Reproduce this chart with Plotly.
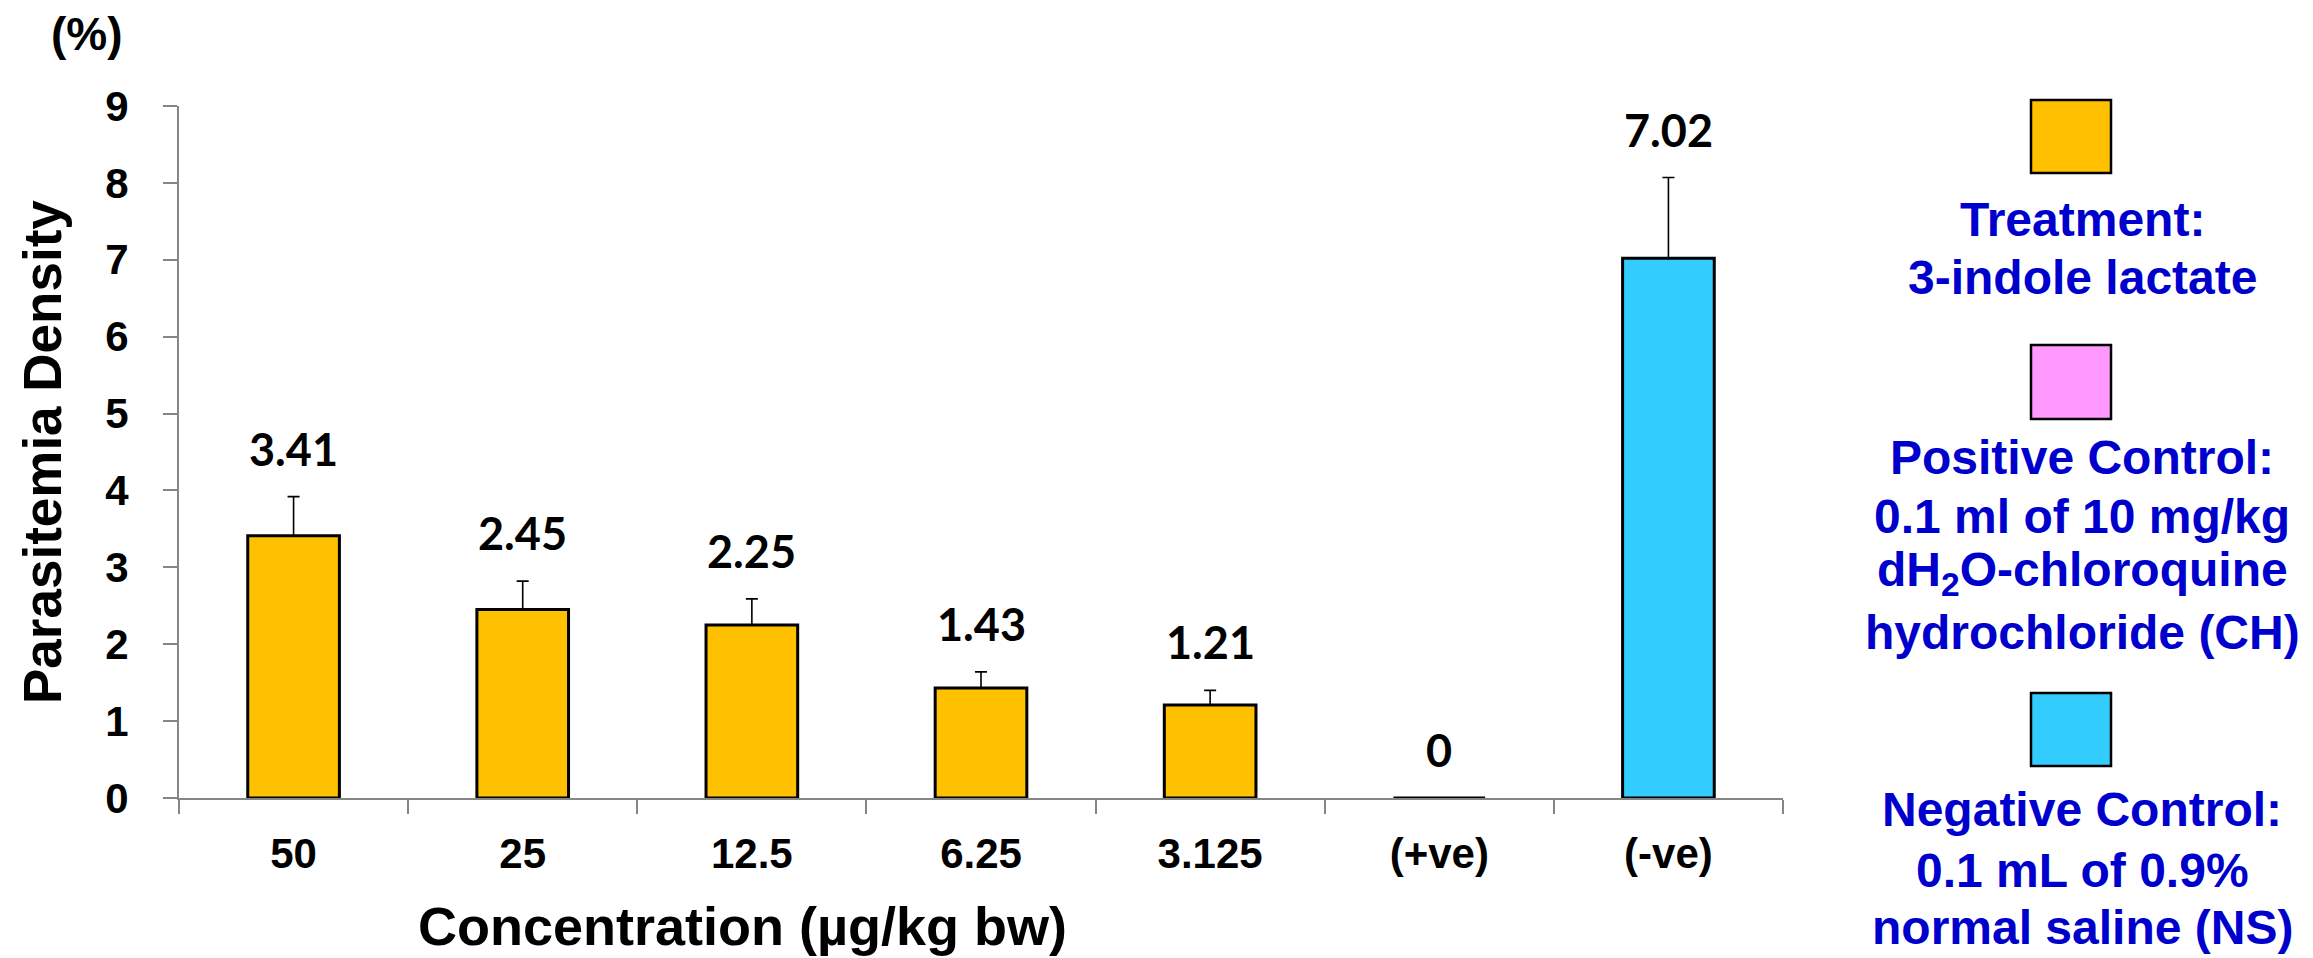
import plotly.graph_objects as go

# ---------------- data ----------------
categories = ["50", "25", "12.5", "6.25", "3.125", "(+ve)", "(-ve)"]
treat_cats = ["50", "25", "12.5", "6.25", "3.125"]
treat_vals = [3.41, 2.45, 2.25, 1.43, 1.21]
treat_err = [0.51, 0.37, 0.34, 0.21, 0.19]
pos_cats = ["(+ve)"]
pos_vals = [0.0]
pos_err = [0.0]
neg_cats = ["(-ve)"]
neg_vals = [7.02]
neg_err = [1.05]
y_ticks = [0, 1, 2, 3, 4, 5, 6, 7, 8, 9]

legend_labels = [
    ["Treatment:", "3-indole lactate"],
    ["Positive Control:", "0.1 ml of 10 mg/kg", "dH<sub>2</sub>O-chloroquine", "hydrochloride (CH)"],
    ["Negative Control:", "0.1 mL of 0.9%", "normal saline (NS)"],
]

# ---------------- style ----------------
W, H = 2313, 958
L, R, T, B = 179, 2313 - 1783, 106, 958 - 798
PW, PH = W - L - R, H - T - B
YELLOW, PINK, CYAN = "#FFC000", "#FF99FF", "#33CCFF"
AXIS = "#868686"
BLUE = "#0000CC"
ARIAL = "Liberation Sans, Arial, sans-serif"
LABELF = "Lato, Carlito, Calibri, sans-serif"


def px_x(px):
    return (px - L) / PW


def px_y(py):
    return (H - B - py) / PH


def bar_trace(xs, ys, es, color, name):
    return go.Bar(
        x=xs, y=ys, name=name, width=0.4,
        marker=dict(color=color, line=dict(color="#000000", width=3)),
        error_y=dict(type="data", symmetric=False, array=es,
                     arrayminus=[0] * len(es), color="#000000",
                     thickness=1.6, width=6),
        showlegend=False, hoverinfo="x+y",
    )


fig = go.Figure()
fig.add_trace(bar_trace(treat_cats, treat_vals, treat_err, YELLOW, "Treatment"))
fig.add_trace(bar_trace(pos_cats, pos_vals, pos_err, PINK, "Positive Control"))
fig.add_trace(bar_trace(neg_cats, neg_vals, neg_err, CYAN, "Negative Control"))

annotations = []
# value labels above error bars
for xs, ys, es in [(treat_cats, treat_vals, treat_err),
                   (pos_cats, pos_vals, pos_err),
                   (neg_cats, neg_vals, neg_err)]:
    for c, v, e in zip(xs, ys, es):
        annotations.append(dict(
            x=categories.index(c), y=v + e, xref="x", yref="y", text=f"{v:g}",
            showarrow=False, yanchor="middle", yshift=48,
            font=dict(family=LABELF, size=45, color="#000000", weight="bold"),
        ))

# axis titles
annotations.append(dict(
    x=px_x(742), y=px_y(926), xref="paper", yref="paper",
    text="Concentration (µg/kg bw)", showarrow=False,
    xanchor="center", yanchor="middle",
    font=dict(family=ARIAL, size=54, color="#000000", weight="bold"),
))
annotations.append(dict(
    x=px_x(42), y=px_y(452), xref="paper", yref="paper",
    text="Parasitemia Density", showarrow=False, textangle=-90,
    xanchor="center", yanchor="middle",
    font=dict(family=ARIAL, size=53, color="#000000", weight="bold"),
))
annotations.append(dict(
    x=px_x(87), y=px_y(34), xref="paper", yref="paper",
    text="(%)", showarrow=False, xanchor="center", yanchor="middle",
    font=dict(family=ARIAL, size=46, color="#000000", weight="bold"),
))

# custom legend
box_tops = [100, 345, 693]
box_bottoms = [173, 419, 766]
box_colors = [YELLOW, PINK, CYAN]
line_centers = [[219, 277], [457, 516, 573, 632], [809, 870, 927]]
shapes = []
for top, bot, col in zip(box_tops, box_bottoms, box_colors):
    shapes.append(dict(
        type="rect", xref="paper", yref="paper",
        x0=px_x(2031), x1=px_x(2111), y0=px_y(bot), y1=px_y(top),
        fillcolor=col, line=dict(color="#000000", width=2.5),
    ))
for lines, centers in zip(legend_labels, line_centers):
    for txt, cy in zip(lines, centers):
        annotations.append(dict(
            x=px_x(2082), y=px_y(cy), xref="paper", yref="paper",
            text=txt, showarrow=False, xanchor="center", yanchor="middle",
            font=dict(family=ARIAL, size=48, color=BLUE, weight="bold"),
        ))

fig.update_layout(
    width=W, height=H,
    margin=dict(l=L, r=R, t=T, b=B, pad=0),
    paper_bgcolor="white", plot_bgcolor="white",
    barmode="overlay",
    annotations=annotations, shapes=shapes,
    showlegend=False,
)
fig.update_xaxes(
    type="category", categoryorder="array", categoryarray=categories,
    range=[-0.5, len(categories) - 0.5],
    tickson="boundaries", ticks="outside", ticklen=14, tickwidth=2, tickcolor=AXIS,
    showline=True, linecolor=AXIS, linewidth=2, showgrid=False, zeroline=False,
    tickfont=dict(family=ARIAL, size=42, color="#000000", weight="bold"),
    ticklabelstandoff=18,
)
fig.update_yaxes(
    range=[0, 9], tickvals=y_ticks, ticks="outside", ticklen=14, tickwidth=2,
    tickcolor=AXIS, showline=True, linecolor=AXIS, linewidth=2,
    showgrid=False, zeroline=False,
    tickfont=dict(family=ARIAL, size=42, color="#000000", weight="bold"),
    ticklabelstandoff=26,
)

fig.write_html(
    "out.html",
    config={"displayModeBar": False},
    post_script="document.body.style.margin='0';document.body.style.overflow='hidden';",
)
